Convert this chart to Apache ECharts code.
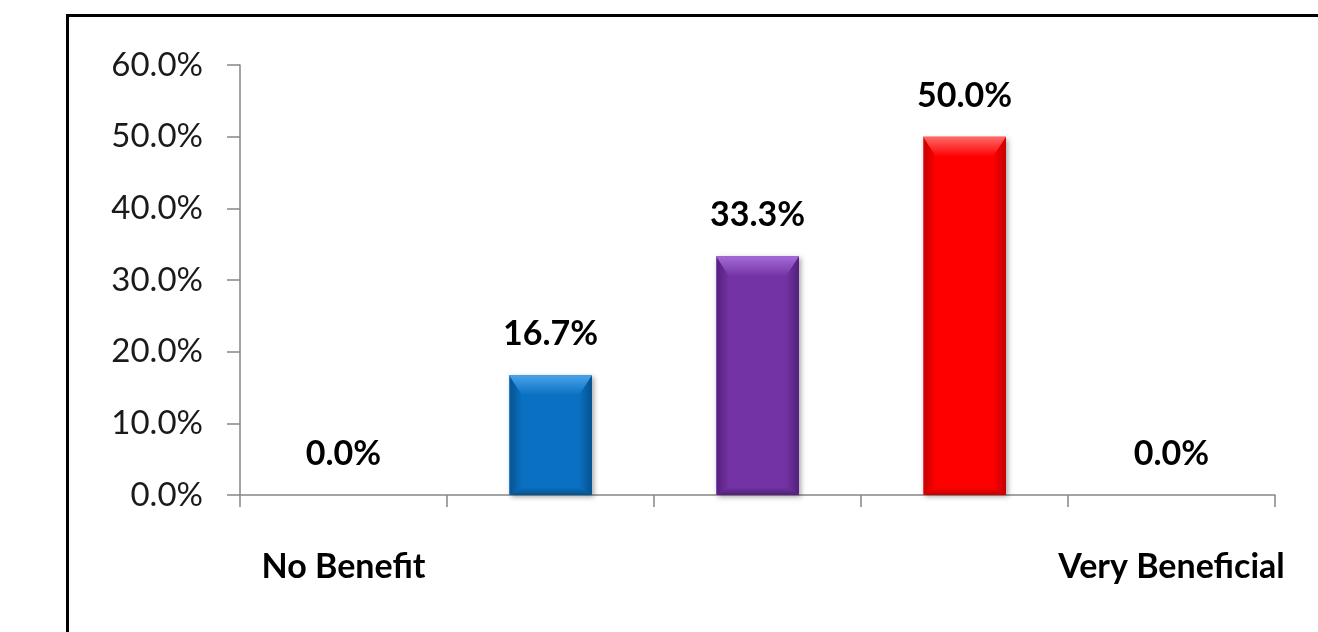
<!DOCTYPE html>
<html>
<head>
<meta charset="utf-8">
<script src="https://cdn.jsdelivr.net/npm/echarts@6/dist/echarts.min.js"></script>
<style>
html,body{margin:0;padding:0;background:#fff;}
#chart{width:1318px;height:632px;}
</style>
</head>
<body>
<div id="chart"></div>
<script>
const categories = ['No Benefit', '', '', '', 'Very Beneficial'];
const values = [0.0, 16.7, 33.3, 50.0, 0.0];
// [highlight, base, dark]
const barColors = [
  ['#4aa3ea', '#0a70c2', '#06528f'],
  ['#4aa3ea', '#0a70c2', '#06528f'],
  ['#a66ad8', '#7433a4', '#521f7a'],
  ['#ff6a6a', '#ff0000', '#c40000'],
  ['#4aa3ea', '#0a70c2', '#06528f']
];

const FONT = 'Lato';
const chart = echarts.init(document.getElementById('chart'));

function lg(x0, y0, x1, y1, c0, c1) {
  return new echarts.graphic.LinearGradient(x0, y0, x1, y1, [{ offset: 0, color: c0 }, { offset: 1, color: c1 }]);
}

chart.setOption({
  animation: false,
  backgroundColor: '#fff',
  graphic: [{
    type: 'rect',
    shape: { x: 67.5, y: 15.5, width: 1400, height: 800 },
    style: { fill: 'none', stroke: '#000', lineWidth: 3 },
    silent: true
  }],
  grid: { left: 240, right: 43, top: 65, bottom: 137, containLabel: false },
  xAxis: {
    type: 'category',
    data: categories,
    axisLine: { lineStyle: { color: '#868686', width: 1.5 } },
    axisTick: { show: true, length: 12, alignWithLabel: false, lineStyle: { color: '#868686', width: 1.5 } },
    axisLabel: { interval: 0, margin: 55, color: '#000', fontFamily: FONT, fontWeight: 'bold', fontSize: 34 }
  },
  yAxis: {
    type: 'value',
    min: 0, max: 60, interval: 10,
    splitLine: { show: false },
    axisLine: { show: true, lineStyle: { color: '#868686', width: 1.5 } },
    axisTick: { show: true, length: 13, lineStyle: { color: '#868686', width: 1.5 } },
    axisLabel: { margin: 37, color: '#1a1a1a', fontFamily: FONT, fontSize: 33, formatter: v => v.toFixed(1) + '%' }
  },
  series: [{
    type: 'custom',
    z: 2,
    data: values.map((v, i) => [i, v]),
    encode: { x: 0, y: 1 },
    renderItem: function (params, api) {
      const i = api.value(0), v = api.value(1);
      if (!v) return null;
      const c = barColors[i];
      const top = api.coord([i, v]);
      const base = api.coord([i, 0]);
      const w = api.size([1, 0])[0] * 0.4;
      const x0 = top[0] - w / 2, x1 = top[0] + w / 2, y0 = top[1], y1 = base[1];
      const b = 13, t = 20, bb = 8;
      return {
        type: 'group',
        children: [
          { type: 'rect', shape: { x: x0, y: y0, width: w, height: y1 - y0 },
            style: { fill: c[1], shadowColor: 'rgba(0,0,0,0.35)', shadowBlur: 5, shadowOffsetX: 2, shadowOffsetY: 2 } },
          { type: 'polygon', shape: { points: [[x0, y0], [x0 + b, y0 + t], [x0 + b, y1 - bb], [x0, y1]] },
            style: { fill: lg(0, 0, 1, 0, c[2], c[1]) } },
          { type: 'polygon', shape: { points: [[x1, y0], [x1 - b, y0 + t], [x1 - b, y1 - bb], [x1, y1]] },
            style: { fill: lg(0, 0, 1, 0, c[1], c[2]) } },
          { type: 'polygon', shape: { points: [[x0, y0], [x1, y0], [x1 - b, y0 + t], [x0 + b, y0 + t]] },
            style: { fill: lg(0, 0, 0, 1, c[0], c[1]) } },
          { type: 'polygon', shape: { points: [[x0, y1], [x1, y1], [x1 - b, y1 - bb], [x0 + b, y1 - bb]] },
            style: { fill: lg(0, 0, 0, 1, c[1], c[2]) } },
          { type: 'line', shape: { x1: x0 + 0.5, y1: y0, x2: x0 + 0.5, y2: y1 },
            style: { stroke: c[0], lineWidth: 1, opacity: 0.6 } }
        ]
      };
    }
  }, {
    type: 'bar',
    z: 3,
    barWidth: '40%',
    data: values,
    itemStyle: { color: 'rgba(0,0,0,0)' },
    label: {
      show: true, position: 'top', distance: 24,
      color: '#000', fontFamily: FONT, fontWeight: 'bold', fontSize: 34,
      formatter: p => p.value.toFixed(1) + '%'
    }
  }]
});
</script>
</body>
</html>
